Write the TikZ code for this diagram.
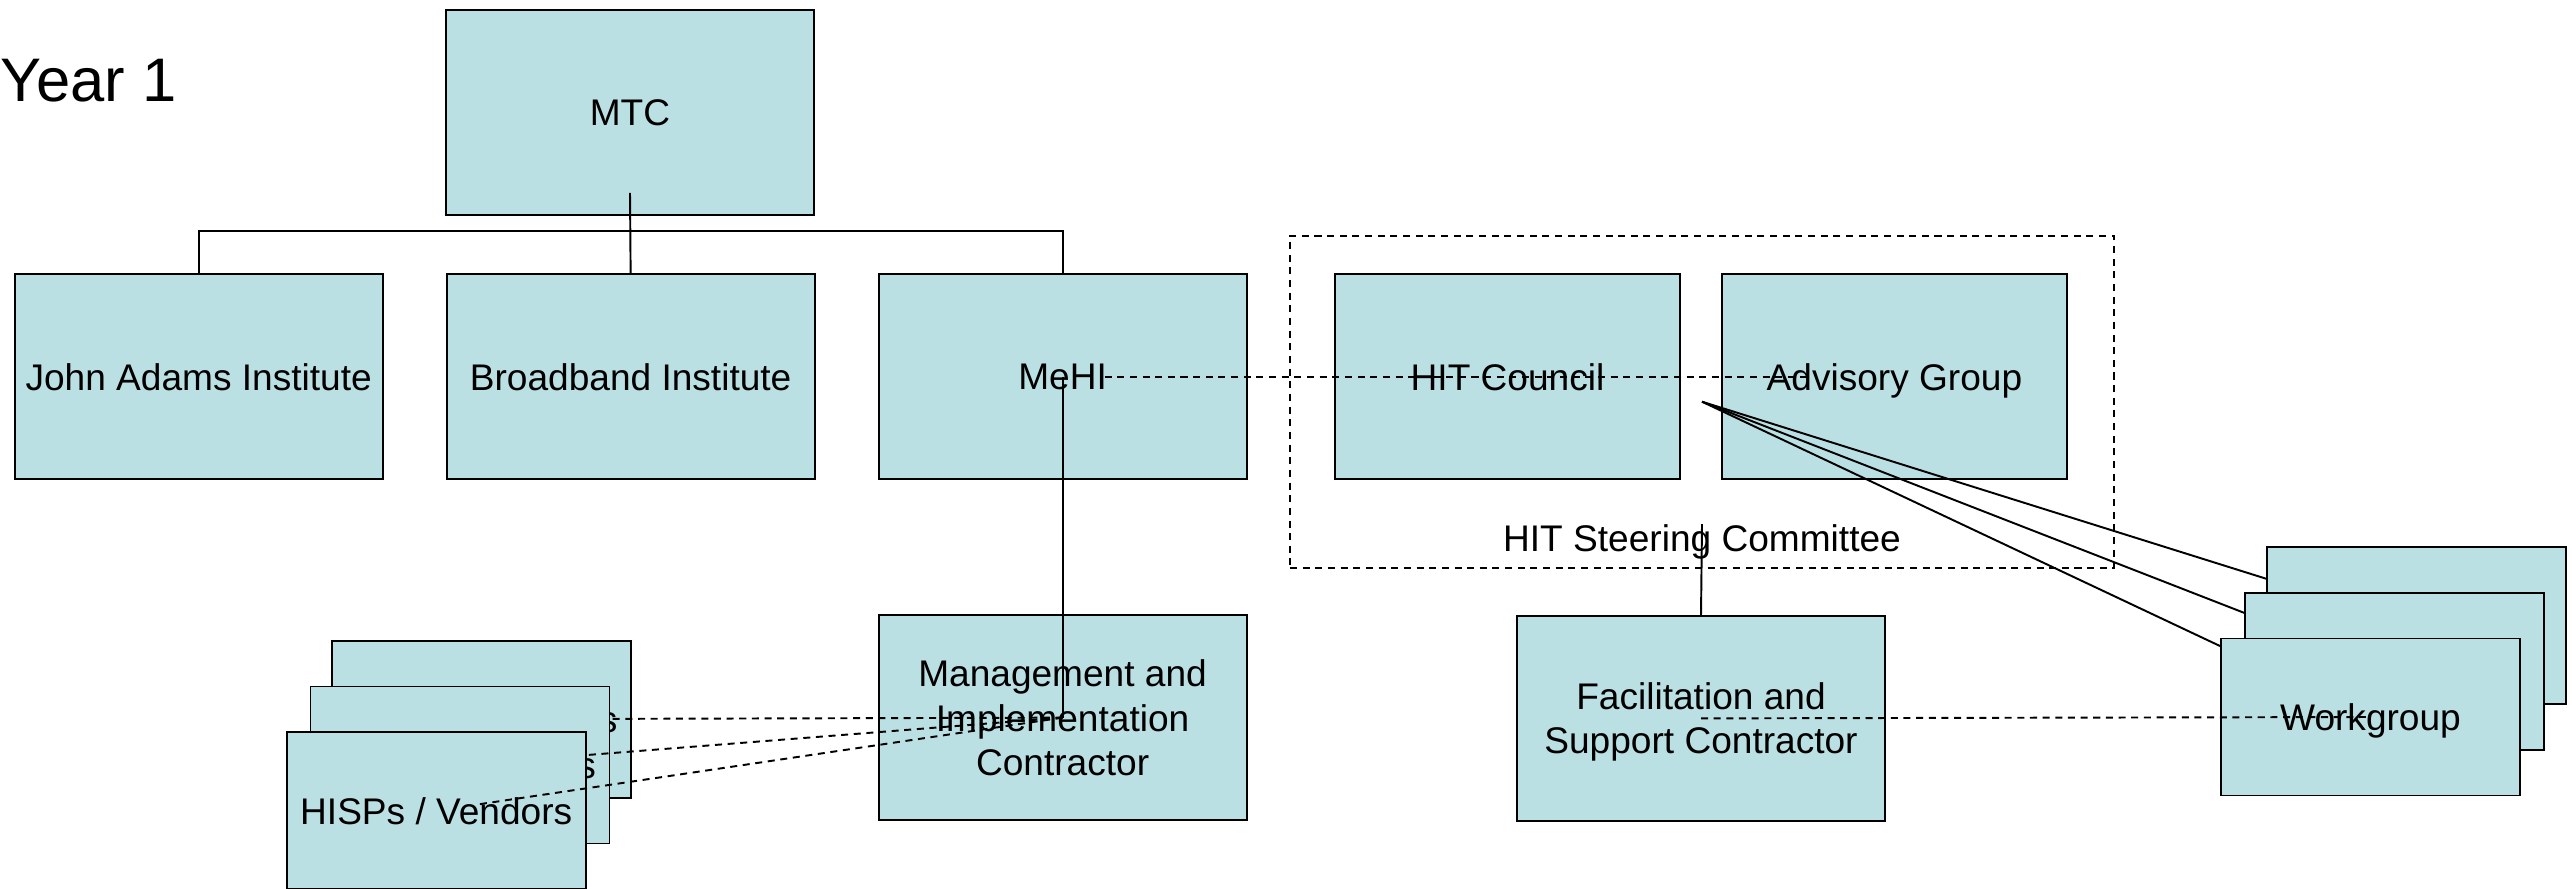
\documentclass[tikz,border=0pt]{standalone}
\usepackage{fontspec}
\setmainfont{Liberation Sans}
\usepackage{tikz}
\usetikzlibrary{positioning,fit,calc}

\definecolor{orgblue}{RGB}{187,224,227}

\begin{document}
\begin{tikzpicture}[x=0.1mm,y=-0.1mm,
    box/.style={rectangle, draw=black, fill=orgblue, line width=0.55pt, minimum width=36.8mm, minimum height=20.5mm, align=center, inner sep=0pt, text depth=0pt, font=\fontsize{10.55}{12.6}\selectfont},
    stackbox/.style={box, minimum width=29.9mm, minimum height=15.7mm},
    lbl/.style={inner sep=0pt, font=\fontsize{10.55}{12.6}\selectfont},
    link/.style={line width=0.55pt},
    dotlink/.style={line width=0.55pt, dash pattern=on 2pt off 1.6pt}]
  \useasboundingbox (0,0) rectangle (2572,888);
  \node (year) [anchor=base west, inner sep=0pt, font=\fontsize{17.5}{20}\selectfont] at (0,101.7) {Year 1};
  \node (mtc) at (630,112.5) [box] {MTC};
  \node (jai) at (198.7,376.7) [box] {John Adams Institute};
  \node (bi) [box, right=6.2mm of jai] {Broadband Institute};
  \node (mehi) [box, right=6.2mm of bi] {MeHI};
  \node (hitc) at (1507.5,376.7) [box, minimum width=34.5mm] {HIT Council};
  \node (adv) [box, minimum width=34.5mm, right=4.0mm of hitc] {Advisory Group};
  \node (hsc) at (1702,401.7) [draw, dotlink, minimum width=82.4mm, minimum height=33.2mm] {};
  \node (hsclabel) at (1702,551.7) [lbl, anchor=base] {HIT Steering Committee};
  \node (mic) [box, below=13.4mm of mehi] {Management and\\Implementation\\Contractor};
  \node (fsc) at (1701,718.4) [box] {Facilitation and\\Support Contractor};
  % org tree
  \draw[link] (jai.north) -- ++(0,-42.3) -| (mehi.north);
  \draw[link] ([yshift=2.3mm]mtc.south) -- (bi.north);
  \draw[link] (mehi.center) -- (mic.center);
  \draw[link] (hsclabel.north) -- (fsc.north);
  \draw[dotlink, shorten <=4.2mm, shorten >=8.4mm] (mehi.center) -- (adv.center);
  % HISPs stack
  \node (hisp1) at (481.3,719.2) [stackbox] {HISPs / Vendors};
  \draw[dotlink] (mic.center) -- (hisp1.center);
  \node (hisp2) at (460,765) [stackbox] {HISPs / Vendors};
  \draw[dotlink] (mic.center) -- (hisp2.center);
  \node (hisp3) at (436.2,810.6) [stackbox] {HISPs / Vendors};
  \draw[dotlink, shorten >=4.1mm] (mic.center) -- (hisp3.center);
  % workgroup stack
  \coordinate (wg1c) at (2416.2,625.8);
  \coordinate (wg2c) at (2394.5,671.4);
  \coordinate (wg3c) at (2370.5,717);
  \path[link]
    (hsc.center) edge (wg1c)
    (hsc.center) edge (wg2c)
    (hsc.center) edge (wg3c);
  \node (wg1) at (wg1c) [stackbox] {Workgroup};
  \node (wg2) at (wg2c) [stackbox] {Workgroup};
  \node (wg3) at (wg3c) [stackbox] {Workgroup};
  \draw[dotlink] (fsc.center) -- (wg3.center);
\end{tikzpicture}
\end{document}
